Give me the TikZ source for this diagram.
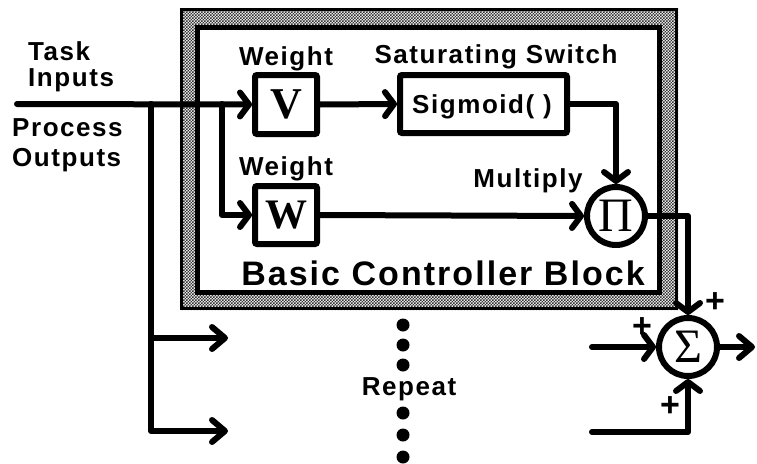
\documentclass[tikz,border=0pt]{standalone}
\usepackage{fontspec}
\setmainfont{Liberation Sans}
\newfontfamily\labfont[LetterSpace=6]{Liberation Sans}
\newfontfamily\bigfont[LetterSpace=6]{Liberation Sans}
\newfontfamily\seriffont{Liberation Serif}
\usetikzlibrary{arrows.meta,patterns}
\pgfdeclarepatternformonly{finechecker}{\pgfqpoint{-.05pt}{-.05pt}}{\pgfqpoint{3.05pt}{3.05pt}}{\pgfqpoint{3pt}{3pt}}{%
  \pgfpathrectangle{\pgfqpoint{0pt}{0pt}}{\pgfqpoint{1.5pt}{1.5pt}}%
  \pgfpathrectangle{\pgfqpoint{1.5pt}{1.5pt}}{\pgfqpoint{1.5pt}{1.5pt}}%
  \pgfusepath{fill}}
\tikzset{
  wire/.style={line width=6pt, line cap=round, line join=round},
  tip/.style={-{Straight Barb[length=9pt,width=24pt,round]}},
  bigtip/.style={-{Straight Barb[length=13pt,width=22pt,round]}},
  blk/.style={draw, line width=6pt, rounded corners=2pt, inner sep=0pt, fill=white},
  circ/.style={draw, circle, line width=6pt, inner sep=0pt, fill=white, minimum size=58pt},
  lab/.style={inner sep=0pt, font=\labfont\bfseries\fontsize{26}{30}\selectfont},
  plus/.style={inner sep=0pt, font=\bfseries\fontsize{34}{34}\selectfont},
  dot/.style={circle, fill=black, inner sep=0pt, minimum size=13pt}
}
\begin{document}
\begin{tikzpicture}[x=1pt,y=-1pt]
\useasboundingbox (0,0) rectangle (757,463);
% frame
\fill[pattern=finechecker, pattern color=black!80, even odd rule] (180,8) rectangle (678,310) (198,28) rectangle (659,292);
\draw[line width=3pt] (181.5,9.5) rectangle (676.5,308.5);
\draw[line width=5pt, fill=white] (197.5,27.5) rectangle (659.5,292.5);
% blocks
\node[blk, minimum width=62pt, minimum height=59pt] (V) at (286,104.5) {\seriffont\bfseries\fontsize{44}{44}\selectfont V};
\node[blk, minimum width=62pt, minimum height=58pt] (W) at (286,215) {\seriffont\bfseries\fontsize{42}{42}\selectfont W};
\node[blk, minimum width=167pt, minimum height=58pt] (S) at (483.5,104) {};
\node[lab, anchor=base] (Stext) at (482,113) {Sigmoid( )};
\node[circ] (P) at (616,216) {\seriffont\fontsize{48}{48}\selectfont Π};
\node[circ] (Sg) at (688,347) {\seriffont\fontsize{48}{48}\selectfont Σ};
% labels
\node[lab, anchor=base west] (task) at (28,60) {Task};
\node[lab, anchor=base west] (inputs) at (28,86) {Inputs};
\node[lab, anchor=base west] (proc) at (12,136) {Process};
\node[lab, anchor=base west] (outs) at (12,166) {Outputs};
\node[lab, anchor=base] (w1) at (286,65) {Weight};
\node[lab, anchor=base] (w2) at (286,175) {Weight};
\node[lab, anchor=base] (sat) at (496,63) {Saturating Switch};
\node[lab, anchor=base] (mul) at (528,187) {Multiply};
\node[lab, anchor=base] (rep) at (409,395) {Repeat};
\node[inner sep=0pt, anchor=base, font=\bigfont\bfseries\fontsize{34}{40}\selectfont] (bcb) at (443,285) {Basic Controller Block};
\node[plus] (p1) at (715,303) {+};
\node[plus] (p2) at (642,328) {+};
\node[plus] (p3) at (670,407) {+};
% dots
\foreach \i/\yy in {1/325,2/345,3/365,4/413,5/435,6/457} \node[dot] (d\i) at (403,\yy) {};
% coordinates
\coordinate (in) at (17,104);
\coordinate (j1) at (151,104);
\coordinate (j2) at (222,104);
\coordinate (r1) at (228,338);
\coordinate (r2) at (228,431);
\coordinate (a1) at (592,347);
\coordinate (a2) at (592,432);
\coordinate (o) at (755,347);
% connectors
\draw[wire,tip] (in) -- (V.west);
\draw[wire,bigtip] (j1) |- (r1);
\draw[wire,bigtip] (j1) |- (r2);
\draw[wire,tip] (j2) |- (W.west);
\draw[wire,tip] (V.east) -- (S.west);
\draw[wire,tip] (S.east) -| (P.north);
\draw[wire,tip] (W.east) -- (P.west);
\draw[wire,tip] (P.east) -| (Sg.north);
\draw[wire,tip] (a1) -- (Sg.west);
\draw[wire,tip] (a2) -| (Sg.south);
\draw[wire,bigtip] (Sg.east) -- (o);
\end{tikzpicture}
\end{document}
